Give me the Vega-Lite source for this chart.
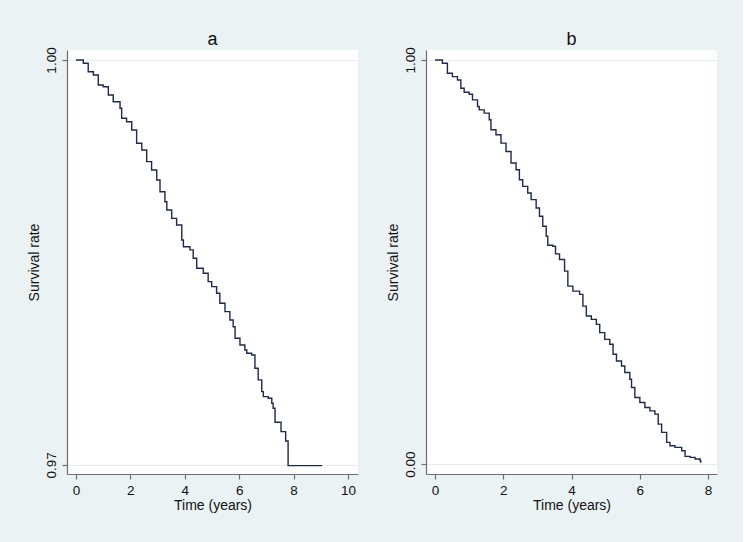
{
  "$schema": "https://vega.github.io/schema/vega-lite/v6.json",
  "background": "#eaf2f3",
  "padding": {"left": 27, "top": 30, "right": 26, "bottom": 30},
  "spacing": 28,
  "config": {
    "font": "Liberation Sans",
    "view": {"fill": "white", "stroke": null},
    "axis": {
      "domainColor": "#6e6e6e",
      "domainWidth": 1.2,
      "tickColor": "#6e6e6e",
      "tickWidth": 1.2,
      "tickSize": 5,
      "labelFont": "Liberation Sans",
      "labelFontSize": 13.5,
      "labelColor": "#111111",
      "labelPadding": 4,
      "titleFont": "Liberation Sans",
      "titleFontSize": 14,
      "titleFontWeight": "normal",
      "titleColor": "#111111",
      "gridColor": "#e3ecef",
      "gridWidth": 1.2
    },
    "axisX": {"grid": false, "titlePadding": 2},
    "axisY": {"grid": true, "labelAngle": 270, "titlePadding": 3},
    "title": {"fontSize": 18, "fontWeight": "normal", "color": "#111111", "font": "Liberation Sans", "offset": -2}
  },
  "datasets": {
    "a": [
      {"t": 0, "s": 1.0},
      {"t": 0.27, "s": 0.99976},
      {"t": 0.45, "s": 0.99913},
      {"t": 0.64, "s": 0.99889},
      {"t": 0.82, "s": 0.99815},
      {"t": 1.0, "s": 0.99802},
      {"t": 1.19, "s": 0.99741},
      {"t": 1.37, "s": 0.99691},
      {"t": 1.62, "s": 0.99642},
      {"t": 1.68, "s": 0.99568},
      {"t": 1.86, "s": 0.99543},
      {"t": 2.05, "s": 0.99481},
      {"t": 2.23, "s": 0.99383},
      {"t": 2.42, "s": 0.99333},
      {"t": 2.6, "s": 0.99247},
      {"t": 2.78, "s": 0.99185},
      {"t": 2.97, "s": 0.99111},
      {"t": 3.09, "s": 0.99024},
      {"t": 3.27, "s": 0.9895},
      {"t": 3.34, "s": 0.98889},
      {"t": 3.52, "s": 0.98827},
      {"t": 3.7, "s": 0.98778},
      {"t": 3.89, "s": 0.98667},
      {"t": 3.95, "s": 0.98617},
      {"t": 4.19, "s": 0.98593},
      {"t": 4.31, "s": 0.98531},
      {"t": 4.44, "s": 0.98457},
      {"t": 4.68, "s": 0.9842},
      {"t": 4.86, "s": 0.98358},
      {"t": 4.99, "s": 0.98321},
      {"t": 5.17, "s": 0.98272},
      {"t": 5.29, "s": 0.98198},
      {"t": 5.48, "s": 0.98136},
      {"t": 5.66, "s": 0.98074},
      {"t": 5.78, "s": 0.98024},
      {"t": 5.85, "s": 0.97939},
      {"t": 6.03, "s": 0.97889},
      {"t": 6.21, "s": 0.97852},
      {"t": 6.28, "s": 0.97827},
      {"t": 6.46, "s": 0.97815},
      {"t": 6.58, "s": 0.97716},
      {"t": 6.7, "s": 0.9763},
      {"t": 6.83, "s": 0.97543},
      {"t": 6.89, "s": 0.97506},
      {"t": 7.07, "s": 0.97494},
      {"t": 7.2, "s": 0.97457},
      {"t": 7.25, "s": 0.9742},
      {"t": 7.32, "s": 0.97316},
      {"t": 7.54, "s": 0.97247},
      {"t": 7.71, "s": 0.97178},
      {"t": 7.8, "s": 0.96995},
      {"t": 9.05, "s": 0.96995}
    ],
    "b": [
      {"t": 0, "s": 1.0},
      {"t": 0.215, "s": 0.9919},
      {"t": 0.362, "s": 0.9672},
      {"t": 0.509, "s": 0.9588},
      {"t": 0.656, "s": 0.9506},
      {"t": 0.756, "s": 0.9301},
      {"t": 0.853, "s": 0.9202},
      {"t": 1.0, "s": 0.9153},
      {"t": 1.097, "s": 0.9012},
      {"t": 1.244, "s": 0.8847},
      {"t": 1.294, "s": 0.8765},
      {"t": 1.441, "s": 0.8684},
      {"t": 1.588, "s": 0.8519},
      {"t": 1.638, "s": 0.8272},
      {"t": 1.785, "s": 0.8148},
      {"t": 1.932, "s": 0.7943},
      {"t": 2.079, "s": 0.7736},
      {"t": 2.226, "s": 0.7449},
      {"t": 2.374, "s": 0.7284},
      {"t": 2.471, "s": 0.7037},
      {"t": 2.568, "s": 0.6872},
      {"t": 2.715, "s": 0.6709},
      {"t": 2.815, "s": 0.6543},
      {"t": 2.962, "s": 0.6338},
      {"t": 3.059, "s": 0.6131},
      {"t": 3.156, "s": 0.5884},
      {"t": 3.256, "s": 0.5637},
      {"t": 3.303, "s": 0.5415},
      {"t": 3.45, "s": 0.539},
      {"t": 3.529, "s": 0.5202},
      {"t": 3.647, "s": 0.5062},
      {"t": 3.794, "s": 0.4773},
      {"t": 3.891, "s": 0.4402},
      {"t": 4.038, "s": 0.4279},
      {"t": 4.235, "s": 0.4198},
      {"t": 4.332, "s": 0.3909},
      {"t": 4.432, "s": 0.3662},
      {"t": 4.579, "s": 0.358},
      {"t": 4.726, "s": 0.3457},
      {"t": 4.824, "s": 0.3252},
      {"t": 4.971, "s": 0.3086},
      {"t": 5.118, "s": 0.2963},
      {"t": 5.215, "s": 0.2716},
      {"t": 5.315, "s": 0.2551},
      {"t": 5.462, "s": 0.2427},
      {"t": 5.559, "s": 0.2264},
      {"t": 5.706, "s": 0.2099},
      {"t": 5.756, "s": 0.1894},
      {"t": 5.853, "s": 0.1647},
      {"t": 6.0, "s": 0.1523},
      {"t": 6.147, "s": 0.14},
      {"t": 6.294, "s": 0.1316},
      {"t": 6.441, "s": 0.1235},
      {"t": 6.538, "s": 0.0988},
      {"t": 6.638, "s": 0.0783},
      {"t": 6.785, "s": 0.0536},
      {"t": 6.882, "s": 0.0452},
      {"t": 7.029, "s": 0.0412},
      {"t": 7.226, "s": 0.0328},
      {"t": 7.324, "s": 0.019},
      {"t": 7.471, "s": 0.0165},
      {"t": 7.618, "s": 0.0123},
      {"t": 7.765, "s": 0.0081},
      {"t": 7.785, "s": 0.003}
    ]
  },
  "hconcat": [
    {
      "title": "a",
      "width": 291,
      "height": 424,
      "data": {"name": "a"},
      "mark": {"type": "line", "interpolate": "step-after", "color": "#1f2a44", "strokeWidth": 1.4},
      "encoding": {
        "x": {"field": "t", "type": "quantitative", "scale": {"domain": [-0.33, 10.37], "nice": false, "zero": false}, "axis": {"values": [0, 2, 4, 6, 8, 10], "title": "Time (years)"}},
        "y": {"field": "s", "type": "quantitative", "scale": {"domain": [0.96933, 1.00074], "nice": false, "zero": false}, "axis": {"values": [0.97, 1.0], "format": ".2f", "title": "Survival rate"}}
      }
    },
    {
      "title": "b",
      "width": 291,
      "height": 424,
      "data": {"name": "b"},
      "mark": {"type": "line", "interpolate": "step-after", "color": "#1f2a44", "strokeWidth": 1.4},
      "encoding": {
        "x": {"field": "t", "type": "quantitative", "scale": {"domain": [-0.265, 8.26], "nice": false, "zero": false}, "axis": {"values": [0, 2, 4, 6, 8], "title": "Time (years)"}},
        "y": {"field": "s", "type": "quantitative", "scale": {"domain": [-0.0247, 1.0247], "nice": false, "zero": false}, "axis": {"values": [0, 1], "format": ".2f", "title": "Survival rate"}}
      }
    }
  ]
}
